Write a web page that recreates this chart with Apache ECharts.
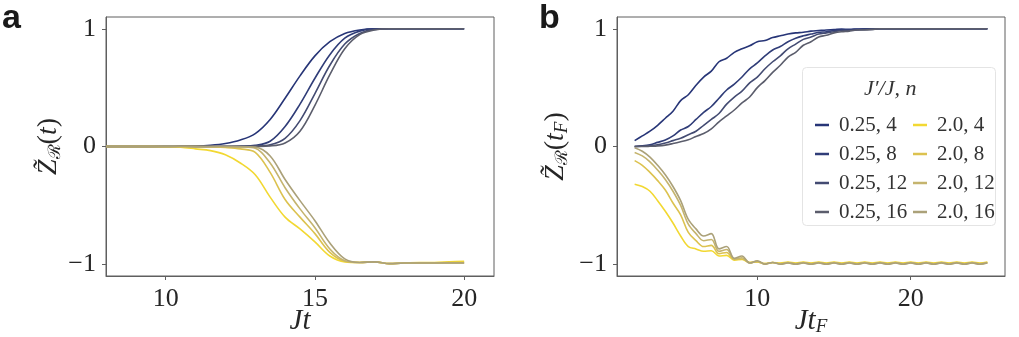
<!DOCTYPE html>
<html>
<head>
<meta charset="utf-8">
<script src="https://cdn.jsdelivr.net/npm/echarts@6/dist/echarts.min.js"></script>
<style>
  html, body { margin: 0; padding: 0; background: #fff; }
  #chart { width: 1019px; height: 337px; }
</style>
</head>
<body>
<div id="chart"></div>
<script>
// panel a: Jt from 8 to 20
const xA = [8, 8.5, 9, 9.5, 10, 10.5, 11, 11.5, 12, 12.5, 13, 13.5, 14, 14.5, 15, 15.5, 16, 16.5, 17, 17.5, 18, 18.5, 19, 19.5, 20]
const aBlue4  = [0, 0, 0, 0, 0, 0.001, 0.003, 0.01, 0.025, 0.055, 0.11, 0.23, 0.41, 0.60, 0.77, 0.89, 0.96, 0.99, 1, 1, 1, 1, 1, 1, 1]
const aBlue8  = [0, 0, 0, 0, 0, 0, 0, 0, 0.001, 0.003, 0.01, 0.045, 0.17, 0.36, 0.58, 0.78, 0.92, 0.98, 1, 1, 1, 1, 1, 1, 1]
const aBlue12 = [0, 0, 0, 0, 0, 0, 0, 0, 0, 0.001, 0.004, 0.015, 0.07, 0.22, 0.45, 0.69, 0.87, 0.96, 0.995, 1, 1, 1, 1, 1, 1]
const aBlue16 = [0, 0, 0, 0, 0, 0, 0, 0, 0, 0, 0.001, 0.005, 0.03, 0.13, 0.35, 0.61, 0.83, 0.95, 0.99, 1, 1, 1, 1, 1, 1]
const aYel4   = [0, 0, 0, 0, -0.002, -0.006, -0.02, -0.035, -0.07, -0.14, -0.24, -0.43, -0.60, -0.70, -0.81, -0.93, -0.98, -0.985, -0.98, -0.995, -0.99, -0.985, -0.985, -0.98, -0.975]
const aYel8   = [0, 0, 0, 0, 0, 0, 0, -0.003, -0.008, -0.02, -0.05, -0.22, -0.45, -0.60, -0.74, -0.90, -0.975, -0.985, -0.98, -0.995, -0.99, -0.99, -0.99, -0.985, -0.985]
const aYel12  = [0, 0, 0, 0, 0, 0, 0, 0, 0, -0.003, -0.015, -0.14, -0.35, -0.53, -0.69, -0.87, -0.97, -0.985, -0.98, -0.995, -0.99, -0.99, -0.99, -0.99, -0.99]
const aYel16  = [0, 0, 0, 0, 0, 0, 0, 0, 0, 0, -0.005, -0.08, -0.28, -0.46, -0.63, -0.82, -0.955, -0.985, -0.98, -0.995, -0.99, -0.99, -0.99, -0.99, -0.99]

// panel b: Jt_F from 2 to 25
const xB = [2, 2.5, 3, 3.5, 4, 4.5, 5, 5.5, 6, 6.5, 7, 7.5, 8, 8.5, 9, 9.5, 10, 10.5, 11, 11.5, 12, 12.5, 13, 13.5, 14, 14.5, 15, 15.5, 16, 16.5, 17, 17.5, 18, 18.5, 19, 19.5, 20, 20.5, 21, 21.5, 22, 22.5, 23, 23.5, 24, 24.5, 25]
const bBlue4  = [0.05, 0.09, 0.13, 0.18, 0.24, 0.30, 0.39, 0.44, 0.52, 0.59, 0.64, 0.72, 0.75, 0.80, 0.83, 0.855, 0.89, 0.90, 0.925, 0.94, 0.955, 0.965, 0.97, 0.98, 0.985, 0.99, 0.993, 0.997, 0.995, 0.998, 1, 1, 1, 1, 1, 1, 1, 1, 1, 1, 1, 1, 1, 1, 1, 1, 1]
const bBlue8  = [0, 0.005, 0.015, 0.035, 0.055, 0.09, 0.14, 0.17, 0.23, 0.29, 0.34, 0.41, 0.48, 0.53, 0.59, 0.66, 0.71, 0.77, 0.82, 0.85, 0.89, 0.92, 0.94, 0.955, 0.97, 0.975, 0.985, 0.99, 0.99, 0.995, 0.995, 1, 1, 1, 1, 1, 1, 1, 1, 1, 1, 1, 1, 1, 1, 1, 1]
const bBlue12 = [0, 0.002, 0.006, 0.015, 0.03, 0.05, 0.07, 0.10, 0.13, 0.18, 0.23, 0.28, 0.36, 0.42, 0.47, 0.54, 0.59, 0.66, 0.72, 0.77, 0.83, 0.87, 0.91, 0.93, 0.955, 0.965, 0.975, 0.985, 0.985, 0.99, 0.995, 0.995, 1, 1, 1, 1, 1, 1, 1, 1, 1, 1, 1, 1, 1, 1, 1]
const bBlue16 = [0, 0, 0.002, 0.005, 0.012, 0.025, 0.04, 0.057, 0.085, 0.11, 0.15, 0.21, 0.26, 0.31, 0.37, 0.42, 0.50, 0.56, 0.63, 0.69, 0.76, 0.80, 0.86, 0.89, 0.93, 0.945, 0.965, 0.975, 0.98, 0.99, 0.99, 0.995, 1, 1, 1, 1, 1, 1, 1, 1, 1, 1, 1, 1, 1, 1, 1]
const bYel4   = [-0.32, -0.34, -0.38, -0.46, -0.55, -0.65, -0.76, -0.85, -0.87, -0.89, -0.885, -0.93, -0.925, -0.965, -0.96, -0.985, -0.98, -0.995, -0.985,
  -0.99, -0.982, -0.99, -0.982, -0.99, -0.982, -0.99, -0.982, -0.99, -0.982, -0.99, -0.982, -0.99, -0.982, -0.99, -0.982, -0.99, -0.982, -0.99, -0.982, -0.99, -0.982, -0.99, -0.982, -0.99, -0.982, -0.99, -0.982]
const bYel8   = [-0.12, -0.16, -0.22, -0.29, -0.37, -0.48, -0.58, -0.73, -0.80, -0.85, -0.84, -0.91, -0.90, -0.96, -0.955, -0.985, -0.98, -0.995, -0.985,
  -0.995, -0.985, -0.995, -0.985, -0.995, -0.985, -0.995, -0.985, -0.995, -0.985, -0.995, -0.985, -0.995, -0.985, -0.995, -0.985, -0.995, -0.985, -0.995, -0.985, -0.995, -0.985, -0.995, -0.985, -0.995, -0.985, -0.995, -0.985]
const bYel12  = [-0.05, -0.08, -0.13, -0.20, -0.28, -0.38, -0.50, -0.66, -0.74, -0.80, -0.79, -0.89, -0.875, -0.955, -0.945, -0.99, -0.975, -1.0, -0.985,
  -0.998, -0.988, -0.998, -0.988, -0.998, -0.988, -0.998, -0.988, -0.998, -0.988, -0.998, -0.988, -0.998, -0.988, -0.998, -0.988, -0.998, -0.988, -0.998, -0.988, -0.998, -0.988, -0.998, -0.988, -0.998, -0.988, -0.998, -0.988]
const bYel16  = [-0.01, -0.04, -0.09, -0.16, -0.24, -0.34, -0.46, -0.62, -0.70, -0.76, -0.74, -0.87, -0.85, -0.95, -0.93, -0.99, -0.97, -1.0, -0.985,
  -1.0, -0.99, -1.0, -0.99, -1.0, -0.99, -1.0, -0.99, -1.0, -0.99, -1.0, -0.99, -1.0, -0.99, -1.0, -0.99, -1.0, -0.99, -1.0, -0.99, -1.0, -0.99, -1.0, -0.99, -1.0, -0.99, -1.0, -0.99]

const names = ["0.25, 4", "0.25, 8", "0.25, 12", "0.25, 16", "2.0, 4", "2.0, 8", "2.0, 12", "2.0, 16"]
const colors = ["#273577", "#303d78", "#434b72", "#5b5d6c", "#f2d832", "#dcc24f", "#c5b46e", "#aba179"]
const xTicksA = [10, 15, 20]
const xTicksB = [10, 20]
const yTicks = [-1, 0, 1]

const serif = "Liberation Serif"
const axisCol = "#5f5f5f"
const txtCol = "#262626"

const seriesA = [aBlue4, aBlue8, aBlue12, aBlue16, aYel4, aYel8, aYel12, aYel16]
const seriesB = [bBlue4, bBlue8, bBlue12, bBlue16, bYel4, bYel8, bYel12, bYel16]

function pairs(xs, ys) { return xs.map((x, i) => [x, ys[i]]) }
function fmt(v) { return v < 0 ? "\u2212" + Math.abs(v) : String(v) }

function xAx(idx, min, max, ticks, nameRich) {
  return {
    type: "value", gridIndex: idx, min: min, max: max,
    axisLine: { show: true, onZero: false, lineStyle: { color: axisCol, width: 1 } },
    axisTick: { show: true, length: 4, customValues: ticks, lineStyle: { color: axisCol } },
    axisLabel: { customValues: ticks, margin: 10, color: txtCol, fontFamily: serif, fontSize: 26 },
    splitLine: { show: false },
    name: nameRich, nameLocation: "middle", nameGap: 30, nameMoveOverlap: false,
    nameTextStyle: {
      color: txtCol,
      rich: {
        i: { fontFamily: serif, fontStyle: "italic", fontSize: 29, color: txtCol, lineHeight: 30 },
        s: { fontFamily: serif, fontStyle: "italic", fontSize: 19, color: txtCol, lineHeight: 14, verticalAlign: "bottom" }
      }
    }
  }
}
function yAx(idx, nameRich, gap) {
  return {
    type: "value", gridIndex: idx, min: -1.1, max: 1.1,
    axisLine: { show: true, onZero: false, lineStyle: { color: axisCol, width: 1 } },
    axisTick: { show: true, length: 4, customValues: yTicks, lineStyle: { color: axisCol } },
    axisLabel: { customValues: yTicks, margin: 10, color: txtCol, fontFamily: serif, fontSize: 26, formatter: fmt },
    splitLine: { show: false },
    name: nameRich, nameLocation: "middle", nameRotate: 90, nameGap: gap, nameMoveOverlap: false,
    nameTextStyle: {
      color: txtCol,
      rich: {
        z: { fontFamily: serif, fontStyle: "italic", fontSize: 28, color: txtCol, lineHeight: 30 },
        r: { fontFamily: "DejaVu Serif", fontSize: 17, color: txtCol, lineHeight: 13, verticalAlign: "bottom" },
        p: { fontFamily: serif, fontSize: 28, color: txtCol, lineHeight: 30 },
        i: { fontFamily: serif, fontStyle: "italic", fontSize: 28, color: txtCol, lineHeight: 30 },
        s: { fontFamily: serif, fontStyle: "italic", fontSize: 19, color: txtCol, lineHeight: 13, verticalAlign: "bottom" }
      }
    }
  }
}

const series = []
seriesA.forEach((ys, k) => series.push({
  name: names[k], type: "line", xAxisIndex: 0, yAxisIndex: 0, data: pairs(xA, ys),
  showSymbol: false, smooth: 0.35, color: colors[k], lineStyle: { width: 1.6, color: colors[k] }
}))
seriesB.forEach((ys, k) => series.push({
  name: names[k], type: "line", xAxisIndex: 1, yAxisIndex: 1, data: pairs(xB, ys),
  showSymbol: false, smooth: 0.35, color: colors[k], lineStyle: { width: 1.6, color: colors[k] }
}))

const legendBase = {
  orient: "vertical", top: 109, itemWidth: 14, itemHeight: 2.5, itemGap: 7, icon: "rect",
  formatter: "{t|{name}}",
  textStyle: {
    fontFamily: serif, fontSize: 21, color: "#333", lineHeight: 22,
    rich: { t: { fontFamily: serif, fontSize: 21, color: "#333", lineHeight: 22, padding: [0, 0, 0, 5] } }
  },
  selectedMode: false
}

const chart = echarts.init(document.getElementById("chart"), null, { renderer: "canvas" })
chart.setOption({
  animation: false,
  backgroundColor: "#fff",
  grid: [
    { left: 106, top: 17, width: 388, height: 259, show: true, borderColor: axisCol, borderWidth: 1, outerBoundsMode: "none", containLabel: false },
    { left: 617, top: 17, width: 388, height: 259, show: true, borderColor: axisCol, borderWidth: 1, outerBoundsMode: "none", containLabel: false }
  ],
  xAxis: [
    xAx(0, 8, 21, xTicksA, "{i|Jt}"),
    xAx(1, 0.85, 26.15, xTicksB, "{i|Jt}{s|F}")
  ],
  yAxis: [
    yAx(0, "{z|Z\u0303}{r|\u211B}{p|(}{i|t}{p|)}", 42),
    yAx(1, "{z|Z\u0303}{r|\u211B}{p|(}{i|t}{s|F}{p|)}", 46)
  ],
  legend: [
    Object.assign({ left: 810, data: names.slice(0, 4) }, legendBase),
    Object.assign({ left: 908, data: names.slice(4) }, legendBase)
  ],
  graphic: [
    { type: "rect", left: 802, top: 67, z: 1, shape: { width: 193, height: 158, r: 4 },
      style: { fill: "rgba(255,255,255,0.85)", stroke: "#e4e4e4", lineWidth: 1 } },
    { type: "text", z: 5, left: 864, top: 78,
      style: { text: "J\u2032/J, n", fontFamily: serif, fontStyle: "italic", fontSize: 22, fill: "#333" } },
    { type: "text", left: 2, top: 2, style: { text: "a", fontFamily: "Liberation Sans", fontWeight: "bold", fontSize: 34, fill: "#1a1a1a" } },
    { type: "text", left: 539, top: 2, style: { text: "b", fontFamily: "Liberation Sans", fontWeight: "bold", fontSize: 34, fill: "#1a1a1a" } }
  ],
  series: series
})
</script>
</body>
</html>
